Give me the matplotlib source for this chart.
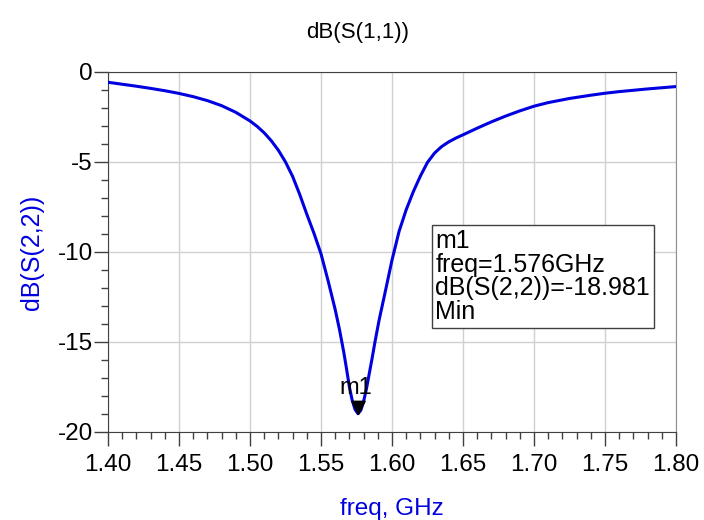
import matplotlib
matplotlib.use("Agg")
import matplotlib.pyplot as plt
from matplotlib.ticker import MultipleLocator, FormatStrFormatter

plt.rcParams['font.family'] = ['Liberation Sans', 'DejaVu Sans']
plt.rcParams['axes.unicode_minus'] = False

# values
freq = [1.400, 1.410, 1.420, 1.430, 1.440, 1.450, 1.460, 1.470, 1.480, 1.490,
        1.500, 1.505, 1.510, 1.515, 1.520, 1.525, 1.530, 1.535, 1.540, 1.545,
        1.550, 1.555, 1.560, 1.563, 1.566, 1.568, 1.570, 1.572, 1.574, 1.576,
        1.578, 1.580, 1.582, 1.584, 1.586, 1.588, 1.591, 1.595, 1.600, 1.605,
        1.610, 1.615, 1.620, 1.625, 1.630, 1.635, 1.640, 1.645, 1.650, 1.660,
        1.670, 1.680, 1.690, 1.700, 1.710, 1.725, 1.740, 1.750, 1.760, 1.780,
        1.800]
s22_db = [-0.57, -0.68, -0.79, -0.91, -1.04, -1.19, -1.37, -1.59, -1.87, -2.24,
          -2.72, -3.02, -3.38, -3.82, -4.35, -5.00, -5.80, -6.80, -7.90, -8.95,
          -10.1, -11.6, -13.2, -14.3, -15.55, -16.5, -17.5, -18.25, -18.75, -18.981,
          -18.8, -18.3, -17.6, -16.75, -15.9, -15.0, -13.75, -12.3, -10.45, -8.85,
          -7.65, -6.65, -5.78, -5.02, -4.50, -4.14, -3.88, -3.67, -3.49, -3.12,
          -2.77, -2.45, -2.16, -1.90, -1.70, -1.47, -1.29, -1.18, -1.09, -0.94,
          -0.81]

m1_freq = 1.576
m1_val = -18.981

BLUE = "#0000e0"
DARK = "#404040"

fig = plt.figure(figsize=(7.04, 5.2), dpi=100)
ax = fig.add_axes([108 / 704, 88 / 520, 568 / 704, 360 / 520])

ax.plot(freq, s22_db, color=BLUE, linewidth=2.2, zorder=3)

# marker m1: downward triangle with its tip on the point
tip_down = [(-0.5, 1.0), (0.5, 1.0), (0.0, 0.0), (-0.5, 1.0)]
ax.plot([m1_freq], [m1_val], marker=tip_down, color="black", markersize=19,
        linestyle="none", zorder=4)
ax.annotate("m1", (m1_freq, m1_val), xytext=(-1.5, 18.5), textcoords="offset points",
            ha="center", va="center", fontsize=17, color="black", zorder=5)

ax.text(1.6305, -11.36,
        "m1\nfreq=1.576GHz\ndB(S(2,2))=-18.981\nMin",
        fontsize=18, ha="left", va="center", linespacing=0.98, zorder=5,
        bbox=dict(boxstyle="square,pad=0.15", facecolor="white",
                  edgecolor=DARK, linewidth=1.0))

ax.set_xlim(1.40, 1.80)
ax.set_ylim(-20, 0)
ax.xaxis.set_major_locator(MultipleLocator(0.05))
ax.xaxis.set_minor_locator(MultipleLocator(0.01))
ax.xaxis.set_major_formatter(FormatStrFormatter("%.2f"))
ax.yaxis.set_major_locator(MultipleLocator(5))
ax.yaxis.set_minor_locator(MultipleLocator(1))

ax.grid(True, which="major", color="#d0d0d0", linewidth=1.0)
ax.set_axisbelow(True)

ax.tick_params(axis="both", which="major", direction="out", length=10,
               width=1.0, color=DARK, labelsize=17.5)
ax.tick_params(axis="both", which="minor", direction="out", length=5,
               width=1.0, color=DARK)
ax.tick_params(axis="x", which="major", pad=6)
ax.tick_params(axis="y", which="major", pad=1)

for side in ["left", "bottom", "top"]:
    ax.spines[side].set_color(DARK)
ax.spines["right"].set_color("#909090")

ax.set_xlabel("freq, GHz", color=BLUE, fontsize=17.5, labelpad=16)
ax.set_ylabel("dB(S(2,2))", color=BLUE, fontsize=18, labelpad=10)
fig.text(0.508, 0.938, "dB(S(1,1))", ha="center", va="center", fontsize=16)

fig.savefig("out.png", dpi=100)
